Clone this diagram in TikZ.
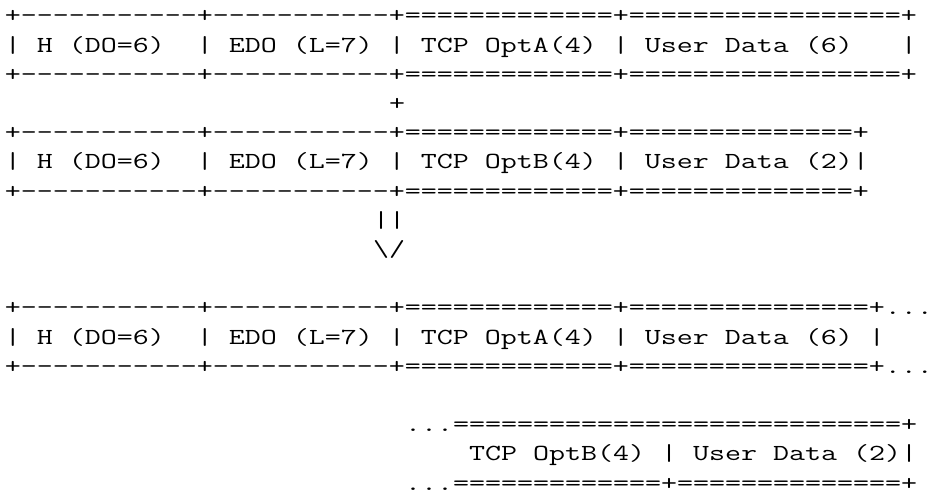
\documentclass[tikz,border=0pt]{standalone}
\usepackage{fontspec}
\usepackage{graphicx}
% stretch each monospaced line so that one character cell is exactly 16pt wide
\newcommand\asctext[1]{{\setbox0\hbox{M}\pgfmathsetmacro\ascfac{16/\the\wd0}\scalebox{\ascfac}[1]{#1}}}
\begin{document}
\begin{tikzpicture}[x=1pt,y=1pt]
\tikzset{ascii/.style={anchor=base west, inner sep=0pt, outer sep=0pt,
  font=\ttfamily\fontsize{23}{29.2}\selectfont, text=black}}
\useasboundingbox (0,0) rectangle (929,494);
% column c starts at x = 5 + 16 c ; line i baseline at 471 - (i-1)*29.2
\node[ascii] (l1)  at (5,471)     {\asctext{+-----------+-----------+=============+=================+}};
\node[ascii] (l2)  at (5,441.8)   {\asctext{|~H~(DO=6)~~|~EDO~(L=7)~|~TCP~OptA(4)~|~User~Data~(6)~~~|}};
\node[ascii] (l3)  at (5,412.6)   {\asctext{+-----------+-----------+=============+=================+}};
\node[ascii] (l4)  at (389,383.4) {\asctext{+}};
\node[ascii] (l5)  at (5,354.2)   {\asctext{+-----------+-----------+=============+==============+}};
\node[ascii] (l6)  at (5,325)     {\asctext{|~H~(DO=6)~~|~EDO~(L=7)~|~TCP~OptB(4)~|~User~Data~(2)|}};
\node[ascii] (l7)  at (5,295.8)   {\asctext{+-----------+-----------+=============+==============+}};
\node[ascii] (l8)  at (373,266.6) {\asctext{||}};
\node[ascii] (l9)  at (373,237.4) {\asctext{\textbackslash/}};
\node[ascii] (l11) at (5,179)     {\asctext{+-----------+-----------+=============+===============+...}};
\node[ascii] (l12) at (5,149.8)   {\asctext{|~H~(DO=6)~~|~EDO~(L=7)~|~TCP~OptA(4)~|~User~Data~(6)~|}};
\node[ascii] (l13) at (5,120.6)   {\asctext{+-----------+-----------+=============+===============+...}};
\node[ascii] (l15) at (405,62.2)  {\asctext{...============================+}};
\node[ascii] (l16) at (469,33)    {\asctext{TCP~OptB(4)~|~User~Data~(2)|}};
\node[ascii] (l17) at (405,3.8)   {\asctext{...=============+==============+}};
\end{tikzpicture}
\end{document}
